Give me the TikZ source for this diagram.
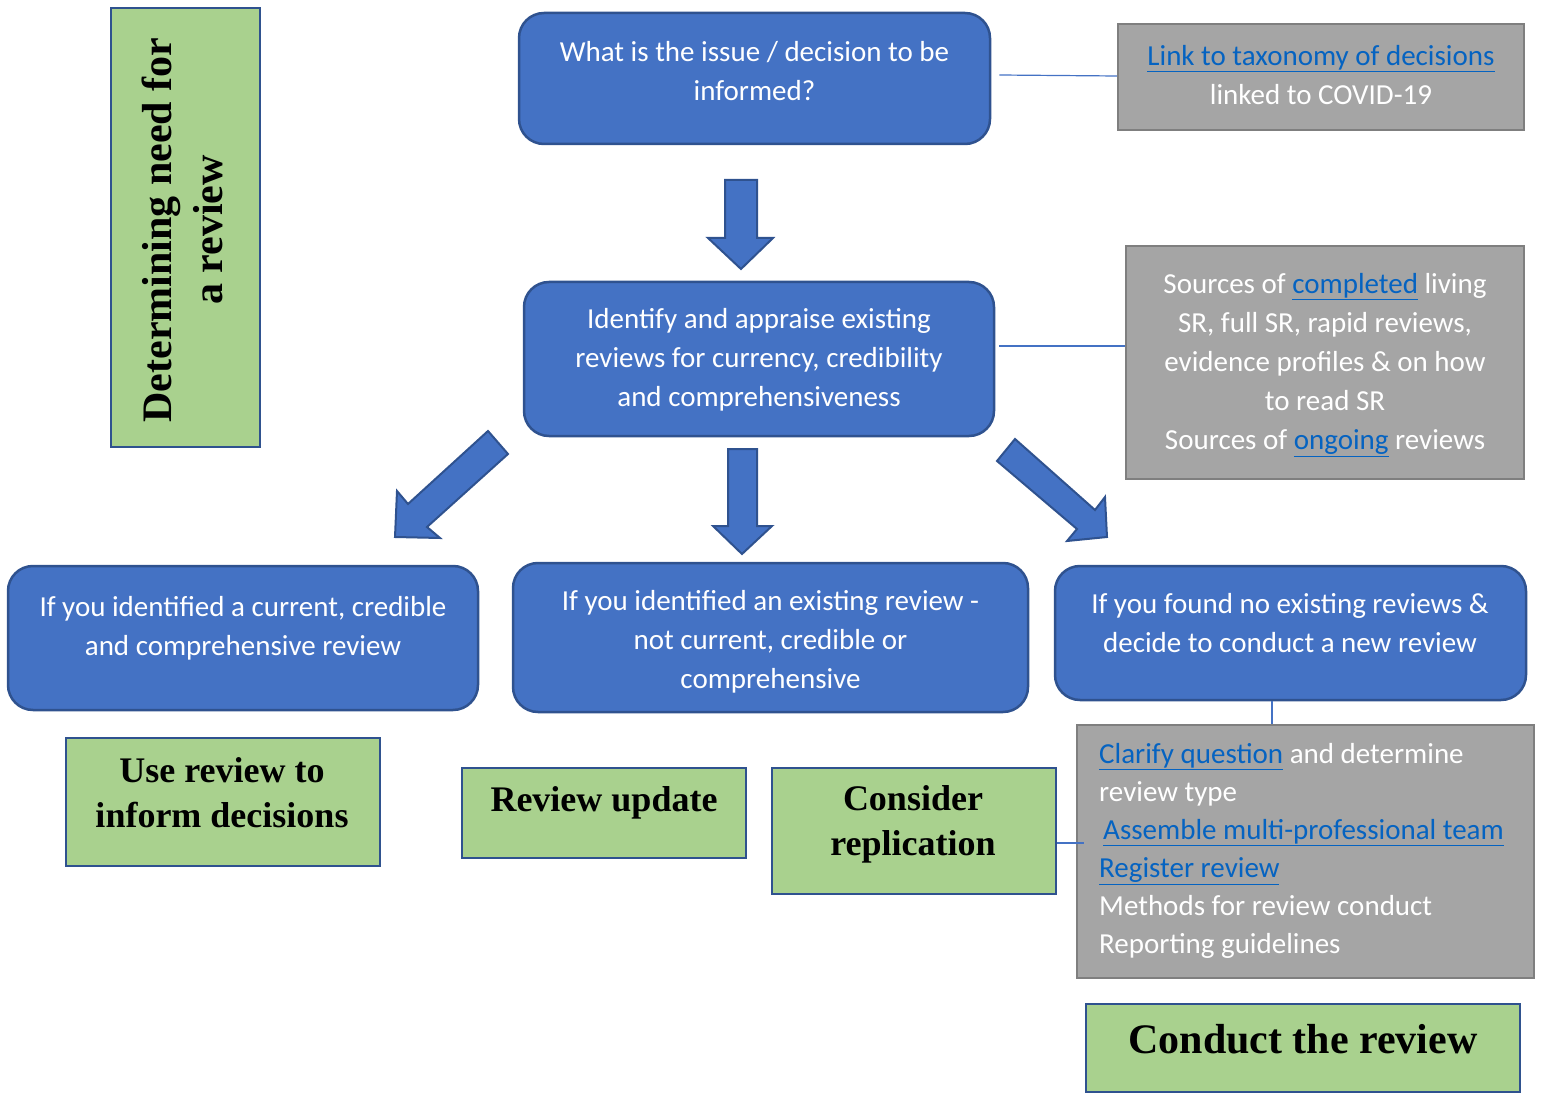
\documentclass[tikz,border=0pt]{standalone}
\usepackage{fontspec}
\setmainfont{Liberation Serif}
\newfontfamily\calfont{Carlito}
\definecolor{boxblue}{HTML}{4472C4}
\definecolor{edgeblue}{HTML}{2F528F}
\definecolor{boxgreen}{HTML}{A9D18E}
\definecolor{boxgray}{HTML}{A5A5A5}
\definecolor{edgegray}{HTML}{7F7F7F}
\definecolor{linkblue}{HTML}{0563C1}
\newcommand{\lnk}[1]{\textcolor{linkblue}{\underline{#1}}}
\tikzset{
  bluebox/.style={draw=edgeblue, fill=boxblue, line width=2.5pt, rounded corners=25pt, inner sep=0pt},
  greenbox/.style={draw=edgeblue, fill=boxgreen, line width=2.5pt, inner sep=0pt},
  graybox/.style={draw=edgegray, fill=boxgray, line width=2.5pt, inner sep=0pt},
  bluetxt/.style={text=white, font=\calfont\fontsize{29}{39}\selectfont, align=center, inner sep=0pt},
  greentxt/.style={text=black, font=\bfseries\fontsize{36}{45}\selectfont, align=center, inner sep=0pt},
  blockarrow/.style={fill=boxblue, draw=edgeblue, line width=2pt, line join=miter},
  linkline/.style={draw=boxblue, line width=1.2pt}
}
\begin{document}
\begin{tikzpicture}[x=1pt,y=-1pt]
\useasboundingbox (0,0) rectangle (1543,1094);
% boxes
\node[greenbox, minimum width=149, minimum height=439] (vert) at (185.5,227.5) {};
\node[bluebox, minimum width=471, minimum height=131] (top) at (754.5,78.5) {};
\node[graybox, minimum width=406, minimum height=106] (gray1) at (1321,77) {};
\node[bluebox, minimum width=470, minimum height=154] (box2) at (759,359) {};
\node[graybox, minimum width=398, minimum height=233] (gray2) at (1325,362.5) {};
\node[bluebox, minimum width=470, minimum height=144] (boxL) at (243,638) {};
\node[bluebox, minimum width=515, minimum height=149] (boxM) at (770.5,637.5) {};
\node[bluebox, minimum width=471, minimum height=134] (boxR) at (1290.5,633) {};
\node[greenbox, minimum width=314, minimum height=128] (useg) at (223,802) {};
\node[greenbox, minimum width=284, minimum height=90] (upd) at (604,813) {};
\node[greenbox, minimum width=284, minimum height=126] (cons) at (914,831) {};
\node[graybox, minimum width=457, minimum height=253] (gray3) at (1305.5,851.5) {};
\node[greenbox, minimum width=434, minimum height=88] (conduct) at (1303,1048) {};
% texts
\node[greentxt, rotate=90, font=\bfseries\fontsize{42}{51}\selectfont] (tvert) at (182,230) {Determining need for\\a review};
\node[bluetxt] (ttop) at (754.5,71) {What is the issue / decision to be\\informed?};
\node[bluetxt] (tgray1) at (1321,75) {\lnk{Link to taxonomy of decisions}\\linked to COVID-19};
\node[bluetxt] (tbox2) at (759,360) {Identify and appraise existing\\reviews for currency, credibility\\and comprehensiveness};
\node[bluetxt] (tgray2) at (1325,365) {Sources of \lnk{completed} living\\SR, full SR, rapid reviews,\\evidence profiles \& on how\\to read SR\\Sources of \lnk{ongoing} reviews};
\node[bluetxt] (tboxL) at (243,628.5) {If you identified a current, credible\\and comprehensive review};
\node[bluetxt] (tboxM) at (770.5,642) {If you identified an existing review -\\not current, credible or\\comprehensive};
\node[bluetxt] (tboxR) at (1290,623) {If you found no existing reviews \&\\decide to conduct a new review};
\node[bluetxt, align=left, anchor=west, font=\calfont\fontsize{29}{38}\selectfont] (tgray3) at (1099,851) {\lnk{Clarify question} and determine\\review type\\\hspace*{4pt}\lnk{Assemble multi-professional team}\\\lnk{Register review}\\Methods for review conduct\\Reporting guidelines};
\node[greentxt] (tuse) at (222,793) {Use review to\\inform decisions};
\node[greentxt] (tupd) at (604,802.5) {Review update};
\node[greentxt] (tcons) at (913,824) {Consider\\replication};
\node[greentxt, font=\bfseries\fontsize{42}{50}\selectfont] (tcond) at (1303,1039) {Conduct the review};
% block arrows
\draw[blockarrow] (725,180) -- (757,180) -- (757,238) -- (773,238) -- (741,269) -- (708,238) -- (725,238) -- cycle;
\draw[blockarrow] (728,449) -- (757,449) -- (757,526) -- (772,526) -- (742,554) -- (713,526) -- (728,526) -- cycle;
\draw[blockarrow] (488,431) -- (508,454) -- (427,527) -- (440,538) -- (395,537) -- (397,491) -- (408,504) -- cycle;
\draw[blockarrow] (1015,439) -- (1095,510) -- (1105,497) -- (1107,537) -- (1067,541) -- (1077,529) -- (997,461) -- cycle;
% connector lines
\draw[linkline] ([xshift=8pt,yshift=3.5pt]top.east) -- ([yshift=1pt]gray1.west);
\draw[linkline] ([xshift=4pt,yshift=13pt]box2.east) -- ([yshift=16.5pt]gray2.west);
\draw[linkline] ([xshift=-18.5pt]boxR.south) -- ([xshift=-33.5pt]gray3.north);
\draw[linkline] ([yshift=-12pt]cons.east) -- ([xshift=8pt,yshift=8.5pt]gray3.west);
\end{tikzpicture}
\end{document}
